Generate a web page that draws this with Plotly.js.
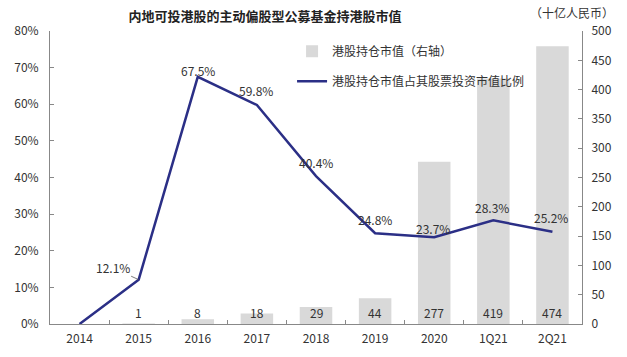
<!DOCTYPE html>
<html>
<head>
<meta charset="utf-8">
<script src="https://cdn.plot.ly/plotly-3.0.1.min.js"></script>
<style>html,body{margin:0;padding:0;background:#fff;}#chart{width:627px;height:357px;}</style>
</head>
<body>
<div id="chart"></div>
<script>
const categories = ['2014', '2015', '2016', '2017', '2018', '2019', '2020', '1Q21', '2Q21'];
const holdingValue = [null, 1, 8, 18, 29, 44, 277, 419, 474];
const holdingLabels = ['', '1', '8', '18', '29', '44', '277', '419', '474'];
const shareOfEquity = [0, 12.1, 67.5, 59.8, 40.4, 24.8, 23.7, 28.3, 25.2];
const shareLabels = ['', '12.1%', '67.5%', '59.8%', '40.4%', '24.8%', '23.7%', '28.3%', '25.2%'];
const seriesNames = ['港股持仓市值（右轴）', '港股持仓市值占其股票投资市值比例'];
const titleText = '内地可投港股的主动偏股型公募基金持港股市值';
const unitText = '（十亿人民币）';

const FONT = '"Noto Sans CJK SC", "Noto Sans", sans-serif';
const TXT = '#333333';

const barTrace = {
  type: 'bar', x: categories, y: holdingValue, name: seriesNames[0],
  marker: {color: '#d9d9d9'}, width: 0.55, yaxis: 'y', hoverinfo: 'skip', legendgroup: 'a'
};
const lineTrace = {
  type: 'scatter', mode: 'lines', x: categories, y: shareOfEquity, name: seriesNames[1],
  line: {color: '#2b2f86', width: 2.5}, yaxis: 'y2', hoverinfo: 'skip', legendgroup: 'b'
};

const annotations = [];
// bar value labels (x given as category index)
categories.forEach((c, i) => {
  if (!holdingLabels[i]) return;
  annotations.push({x: i, y: 0, xref: 'x', yref: 'y', text: holdingLabels[i],
    showarrow: false, yanchor: 'middle', yshift: 12,
    font: {family: FONT, size: 12, color: TXT}});
});
// line value labels (offsets in px)
const lblShift = [[0,0],[0,0],[0,6],[-1,14],[0,14],[0,14],[-1,9],[-1,13],[-1,14]];
categories.forEach((c, i) => {
  if (!shareLabels[i]) return;
  if (i === 1) {
    annotations.push({x: i, y: shareOfEquity[i], xref: 'x', yref: 'y2', text: shareLabels[i],
      showarrow: true, arrowhead: 0, arrowwidth: 0.8, arrowcolor: '#555', ax: -26, ay: -12,
      standoff: 0, font: {family: FONT, size: 12, color: TXT}});
    return;
  }
  annotations.push({x: i, y: shareOfEquity[i], xref: 'x', yref: 'y2', text: shareLabels[i],
    showarrow: false, yanchor: 'middle', xshift: lblShift[i][0], yshift: lblShift[i][1],
    font: {family: FONT, size: 12, color: TXT}});
});
annotations.push({xref: 'paper', yref: 'paper', x: (572-50)/532, y: (324-13)/293, text: unitText,
  showarrow: false, xanchor: 'center', yanchor: 'middle', font: {family: FONT, size: 12, color: TXT}});

const layout = {
  width: 627, height: 357,
  margin: {l: 50, r: 45, t: 31, b: 33},
  paper_bgcolor: '#fff', plot_bgcolor: '#fff',
  font: {family: FONT, size: 12, color: TXT},
  title: {text: '<b>' + titleText + '</b>', x: 265/627, xanchor: 'center', y: 1 - 16/357, yanchor: 'middle',
    font: {family: FONT, size: 13, color: '#222'}},
  showlegend: true,
  legend: {x: 0.455, y: 0.98, xanchor: 'left', yanchor: 'top', bgcolor: 'rgba(0,0,0,0)',
    font: {family: FONT, size: 12, color: TXT}, traceorder: 'grouped', tracegroupgap: 11},
  xaxis: {type: 'category', range: [-0.5, 8.5], showline: true, linecolor: '#888', linewidth: 1,
    ticks: 'inside', ticklen: 4, tickcolor: '#888', tickson: 'boundaries', ticklabelstandoff: 4,
    showgrid: false, zeroline: false, tickangle: 0, tickfont: {family: FONT, size: 12, color: TXT}},
  yaxis: {side: 'right', range: [0, 500], dtick: 50, showline: true, linecolor: '#888', linewidth: 1,
    ticks: 'inside', ticklen: 4, tickcolor: '#888', showgrid: false, zeroline: false, ticklabelstandoff: 6,
    tickfont: {family: FONT, size: 12, color: TXT}},
  yaxis2: {side: 'left', overlaying: 'y', range: [0, 80], dtick: 10, ticksuffix: '%',
    showline: true, linecolor: '#888', linewidth: 1, ticks: 'inside', ticklen: 4, tickcolor: '#888',
    ticklabelstandoff: 8,
    showgrid: false, zeroline: false, tickfont: {family: FONT, size: 12, color: TXT}},
  annotations: annotations
};
Plotly.newPlot('chart', [barTrace, lineTrace], layout, {staticPlot: true, displayModeBar: false});
</script>
</body>
</html>
